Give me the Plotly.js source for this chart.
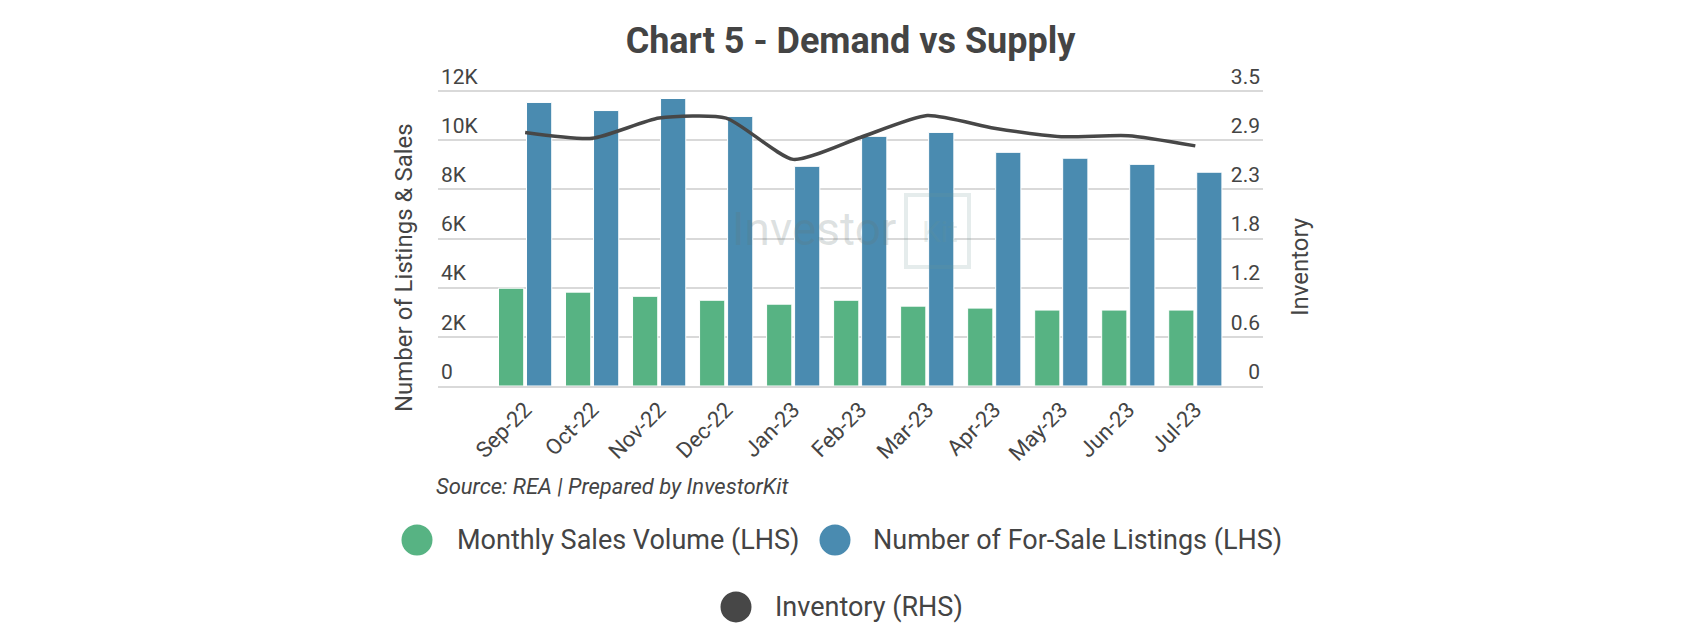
<!DOCTYPE html>
<html>
<head>
<meta charset="utf-8">
<script src="https://cdn.plot.ly/plotly-3.0.1.min.js"></script>
<style>html,body{margin:0;padding:0;background:#fff;}#chart{width:1700px;height:640px;}</style>
</head>
<body>
<div id="chart"></div>
<script>
const months = ["Sep-22","Oct-22","Nov-22","Dec-22","Jan-23","Feb-23","Mar-23","Apr-23","May-23","Jun-23","Jul-23"];
const salesVolume = [3980,3820,3650,3490,3330,3490,3250,3170,3090,3090,3090];
const forSaleListings = [11540,11210,11700,10970,8940,10160,10320,9510,9270,9020,8700];
const inventory = [3.01,2.94,3.18,3.18,2.69,2.95,3.21,3.06,2.96,2.97,2.85];
const seriesNames = ["Monthly Sales Volume (LHS)","Number of For-Sale Listings (LHS)","Inventory (RHS)"];
const leftTickVals = [0,2000,4000,6000,8000,10000,12000];
const leftTickText = ["0","2K","4K","6K","8K","10K","12K"];
const rightTickVals = [0,0.5833,1.1667,1.75,2.3333,2.9167,3.5];
const rightTickText = ["0","0.6","1.2","1.8","2.3","2.9","3.5"];
const titleText = "Chart 5 - Demand vs Supply";
const leftTitle = "Number of Listings & Sales";
const rightTitle = "Inventory";
const sourceText = "Source: REA | Prepared by InvestorKit";

const GREEN = "#57b383", BLUE = "#4a8bb0", DARK = "#474747", TXT = "#444444";
const FONT = "Roboto, 'Noto Sans', sans-serif";

// plot geometry: 12K gridline at y=91, zero at y=386; extra headroom so top labels show
const L = 438, R = 1263, B = 386, T12 = 91;
const leftMax = 12000, rightMax = 3.5, head = 14000 / 12000;
const T = B - (B - T12) * head;
const px = v => (v - L) / (R - L);
const py = v => (B - v) / (B - T);

const traces = [
  {type:"bar", name:seriesNames[0], x:months, y:salesVolume, marker:{color:GREEN, line:{color:"#ffffff", width:1}}, yaxis:"y", showlegend:false},
  {type:"bar", name:seriesNames[1], x:months, y:forSaleListings, marker:{color:BLUE, line:{color:"#ffffff", width:1}}, yaxis:"y", showlegend:false},
  {type:"scatter", mode:"lines", name:seriesNames[2], x:months, y:inventory, yaxis:"y2",
   line:{color:DARK, width:3.5, shape:"spline", smoothing:0.6}, showlegend:false}
];

const legendItems = [
  {cx:417, cy:540, tx:455, color:GREEN, name:seriesNames[0]},
  {cx:835, cy:540, tx:871, color:BLUE, name:seriesNames[1]},
  {cx:736, cy:607, tx:773, color:DARK, name:seriesNames[2]}
];

const shapes = [];
const annotations = [];
legendItems.forEach(it => {
  shapes.push({type:"circle", xref:"paper", yref:"paper", xsizemode:"pixel", ysizemode:"pixel",
    xanchor:px(it.cx), yanchor:py(it.cy), x0:-15.5, x1:15.5, y0:-15.5, y1:15.5,
    fillcolor:it.color, line:{width:0}});
  annotations.push({xref:"paper", yref:"paper", x:px(it.tx), y:py(it.cy), xanchor:"left", yanchor:"middle",
    text:it.name, showarrow:false, font:{family:FONT, size:27, color:TXT}});
});
annotations.push({xref:"paper", yref:"paper", x:px(434), y:py(487), xanchor:"left", yanchor:"middle",
  text:"<i>"+sourceText+"</i>", showarrow:false, font:{family:FONT, size:22, color:TXT}});
// axis titles
annotations.push({xref:"paper", yref:"paper", x:px(404), y:py(268), xanchor:"center", yanchor:"middle", textangle:-90,
  text:leftTitle, showarrow:false, font:{family:FONT, size:24, color:TXT}});
annotations.push({xref:"paper", yref:"paper", x:px(1300), y:py(267), xanchor:"center", yanchor:"middle", textangle:-90,
  text:rightTitle, showarrow:false, font:{family:FONT, size:24, color:TXT}});
// watermark
annotations.push({xref:"paper", yref:"paper", x:px(814), y:py(229), xanchor:"center", yanchor:"middle",
  text:"Investor", showarrow:false, font:{family:FONT, size:46, color:"rgba(100,120,120,0.22)"}});
annotations.push({xref:"paper", yref:"paper", x:px(940), y:py(231), xanchor:"center", yanchor:"middle",
  text:"Kit", showarrow:false, font:{family:FONT, size:30, color:"rgba(110,150,140,0.18)"}});
shapes.push({type:"rect", xref:"paper", yref:"paper", x0:px(906), x1:px(969), y0:py(267), y1:py(195),
  line:{color:"rgba(110,150,150,0.18)", width:4}, layer:"above"});

const layout = {
  width:1700, height:640,
  paper_bgcolor:"#fff", plot_bgcolor:"rgba(0,0,0,0)",
  margin:{l:L, r:1700-R, t:T, b:640-B, pad:0},
  title:{text:"<b>"+titleText+"</b>", x:0.5, xref:"paper", xanchor:"center", y:1-40/640, yref:"container", yanchor:"middle",
    font:{family:FONT, size:36, color:TXT}},
  font:{family:FONT, color:TXT},
  barmode:"group", bargap:0.164, bargroupgap:0.1,
  xaxis:{type:"category", range:[-1.30, 11.01], tickangle:-45, tickfont:{size:22, color:TXT},
    showgrid:false, showline:true, linecolor:"#d9d9d9", linewidth:2, ticks:"", fixedrange:true},
  yaxis:{range:[0, leftMax*head], tickvals:leftTickVals, ticktext:leftTickText, ticklabelposition:"inside top",
    tickfont:{size:21, color:TXT}, showgrid:true, gridcolor:"#d9d9d9", gridwidth:2, zeroline:false, automargin:false},
  yaxis2:{range:[0, rightMax*head], overlaying:"y", side:"right", tickvals:rightTickVals, ticktext:rightTickText,
    ticklabelposition:"inside top", tickfont:{size:21, color:TXT}, showgrid:false, zeroline:false, automargin:false},
  shapes:shapes, annotations:annotations, showlegend:false
};

Plotly.newPlot("chart", traces, layout, {displayModeBar:false, staticPlot:true});
</script>
</body>
</html>
